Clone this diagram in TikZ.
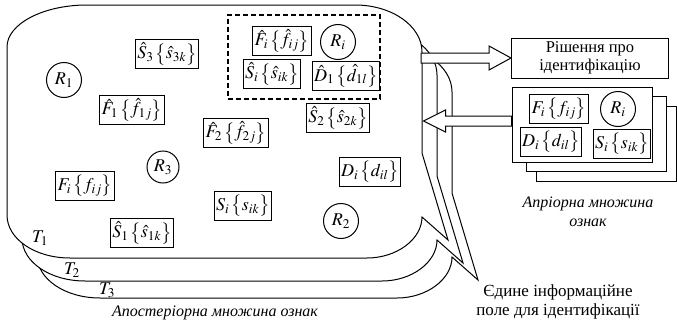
\documentclass[tikz,border=0pt]{standalone}
\usepackage{mathptmx}
\usepackage[no-math]{fontspec}
\setmainfont{Liberation Serif}
\usetikzlibrary{calc}

% feature set: symbol with its set of values
\newcommand\fset[2]{#1\mkern2mu\bigl\{#2\bigr\}}
% outline of one information field (callout with a tail)
\newcommand\fieldpath{(7,47) .. controls (7,24) and (43,5) .. (87,5)
  -- (355,5) .. controls (392,5) and (422,26) .. (422,52)
  -- (422,153) -- (448,240) -- (422,217)
  .. controls (422,239) and (397,258) .. (367,258)
  -- (70,258) .. controls (35,258) and (7,239) .. (7,215) -- cycle}

\begin{document}
\begin{tikzpicture}[
  x=1pt, y=-1pt, font=\fontsize{16.5}{18}\selectfont,
  field/.style  = {draw, fill=white, line width=1pt},
  feat/.style   = {draw, fill=white, line width=1.2pt, inner sep=2pt,
                   minimum height=29pt, font=\fontsize{18}{20}\selectfont},
  res/.style    = {draw, circle, line width=1pt, inner sep=0pt,
                   minimum size=35pt, font=\fontsize{18}{20}\selectfont},
  panel/.style  = {draw, fill=white, line width=1pt,
                   minimum width=140pt, minimum height=75pt},
  hollow/.style = {draw, fill=white, line width=1pt, line join=miter},
  note/.style   = {font=\fontsize{16}{19}\selectfont\itshape, align=center},
  tag/.style    = {font=\fontsize{18}{20}\selectfont},
]
  \useasboundingbox (0,0) rectangle (678,324);

  % ---- stacked fields T3, T2, T1 ----------------------------
  \foreach \dx/\dy in {30/40, 15/23, 0/0}
    \draw[field, shift={(\dx,\dy)}] \fieldpath;

  \node[tag] (t1) at ( 40, 238) {$T_1$};
  \node[tag] (t2) at ( 72, 270) {$T_2$};
  \node[tag] (t3) at (107, 290) {$T_3$};

  % ---- selected features (dashed group) ---------------------
  \node[draw, dashed, line width=1.2pt, dash pattern=on 5pt off 3pt,
        minimum width=152pt, minimum height=84pt] (grp) at (304,57) {};
  \node[feat] (fhi) at (282, 41) {$\fset{\hat F_i}{\hat f_{ij}}$};
  \node[res]  (ri)  at (338, 42) {$R_i$};
  \node[feat] (shi) at (272, 74) {$\fset{\hat S_i}{\hat s_{ik}}$};
  \node[feat] (dh1) at (346, 76) {$\fset{\hat D_1}{\hat d_{1l}}$};

  % ---- a posteriori features --------------------------------
  \node[res]  (r1)  at ( 64,  80) {$R_1$};
  \node[res, minimum size=32pt] (r3) at (163, 167) {$R_3$};
  \node[res]  (r2)  at (341, 221) {$R_2$};
  \node[feat] (sh3) at (167,  54) {$\fset{\hat S_3}{\hat s_{3k}}$};
  \node[feat] (fh1) at (132, 110) {$\fset{\hat F_1}{\hat f_{1j}}$};
  \node[feat] (fh2) at (236, 133) {$\fset{\hat F_2}{\hat f_{2j}}$};
  \node[feat] (sh2) at (338, 118) {$\fset{\hat S_2}{\hat s_{2k}}$};
  \node[feat] (fi)  at ( 85, 186) {$\fset{F_i}{f_{ij}}$};
  \node[feat] (di)  at (370, 172) {$\fset{D_i}{d_{il}}$};
  \node[feat] (si)  at (243, 206) {$\fset{S_i}{s_{ik}}$};
  \node[feat] (sh1) at (142, 233) {$\fset{\hat S_1}{\hat s_{1k}}$};

  % ---- decision and a priori set ----------------------------
  \node[draw, line width=1pt, minimum width=157pt, minimum height=40pt,
        align=center, inner sep=2pt] (dec) at (590,58)
        {Рішення про\\ідентифікацію};
  \foreach \n/\x/\y in {a3/606/144, a2/596/134, a1/582/125}
    \node[panel] (\n) at (\x,\y) {};
  \node[feat] (fa) at (559, 109) {$\fset{F_i}{f_{ij}}$};
  \node[res]  (ra) at (618, 109) {$R_i$};
  \node[feat] (da) at (551, 142) {$\fset{D_i}{d_{il}}$};
  \node[feat] (sa) at (622, 144) {$\fset{S_i}{s_{ik}}$};

  % ---- hollow arrows ----------------------------------------
  \draw[hollow] (dec.west) -- ++(-22,-12) -- ++(0,7) -- ++(-68,0)
    -- ++(0,10) -- ++(68,0) -- ++(0,7) -- cycle;
  \draw[hollow] ([yshift=4pt]a1.west) -- ++(0,-5) -- ++(-66,0)
    -- ++(0,-6) -- ++(-22,11) -- ++(22,11) -- ++(0,-6) -- ++(66,0) -- cycle;

  % ---- captions ---------------------------------------------
  \node[note] (apr) at (588, 212) {Апріорна множина\\ознак};
  \node[note] (apo) at (215, 313) {Апостеріорна множина ознак};
  \node[align=center, font=\fontsize{17}{19}\selectfont] (uni) at (558, 302)
        {Єдине інформаційне\\поле для ідентифікації};
\end{tikzpicture}
\end{document}
